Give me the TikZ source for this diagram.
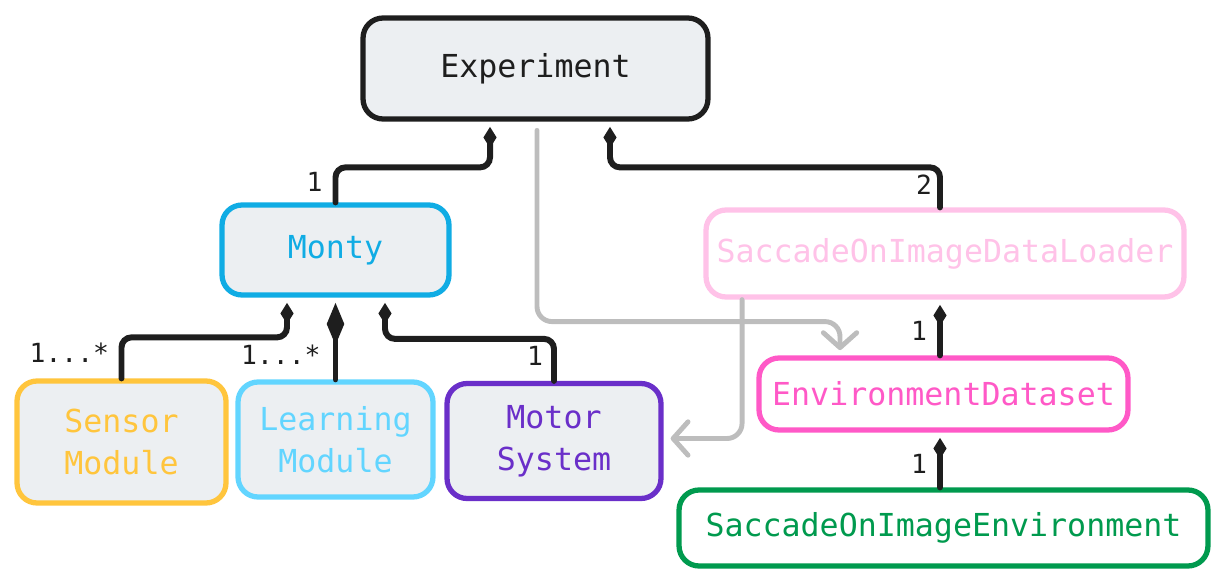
\documentclass[tikz,border=0pt]{standalone}
\usepackage{fontspec}
\setmonofont{DejaVu Sans Mono}
\usepackage{tikz}
\usetikzlibrary{arrows.meta, positioning}
\definecolor{ink}{HTML}{1E1E1E}
\definecolor{boxfill}{HTML}{ECEFF2}
\definecolor{montyblue}{HTML}{10ACE4}
\definecolor{sensoryellow}{HTML}{FFC53D}
\definecolor{learnblue}{HTML}{62D5FF}
\definecolor{motorpurple}{HTML}{6A2FC9}
\definecolor{loaderpink}{HTML}{FFC2E8}
\definecolor{datasetpink}{HTML}{FF59C7}
\definecolor{envgreen}{HTML}{009A4E}
\definecolor{flowgray}{HTML}{BDBDBD}
\tikzstyle{box}=[rectangle, rounded corners=0.4cm, line width=3pt, draw=ink, fill=boxfill, text=ink, font=\ttfamily\fontsize{18}{24}\selectfont, align=center, inner sep=0pt]
\tikzstyle{comp}=[draw=ink, line width=3.4pt, rounded corners=0.2cm, line cap=round, shorten >=3pt, -{Diamond[length=12pt, width=7.5pt]}]
\tikzstyle{bigcomp}=[comp, -{Diamond[length=24pt, width=10pt]}]
\tikzstyle{flow}=[draw=flowgray, line width=2.8pt, rounded corners=0.3cm, line cap=round, -{Straight Barb[length=8.5pt, width=19pt, round]}]
\tikzstyle{mult}=[inner sep=0pt, text=ink, font=\ttfamily\fontsize{15}{15}\selectfont]

\begin{document}
\begin{tikzpicture}[x=0.02cm, y=-0.02cm]
  \useasboundingbox (0,0) rectangle (1224,584);

  \node[box, minimum width=6.9cm, minimum height=2.02cm] (exp) at (535.5,68.5) {Experiment};
  \node[box, draw=montyblue, text=montyblue, minimum width=4.54cm, minimum height=1.8cm] (monty) at (335.5,250) {Monty};
  \node[box, draw=loaderpink, fill=white, text=loaderpink, minimum width=9.56cm, minimum height=1.74cm] (loader) at (945,253.5) {SaccadeOnImageDataLoader};

  \node[box, draw=sensoryellow, text=sensoryellow, minimum width=4.18cm, minimum height=2.44cm] (sensor) at (121.5,442) {Sensor\\Module};
  \node[box, draw=learnblue, text=learnblue, minimum width=3.9cm, minimum height=2.3cm] (learn) at (335.5,439.5) {Learning\\Module};
  \node[box, draw=motorpurple, text=motorpurple, minimum width=4.28cm, minimum height=2.3cm] (motor) at (554,441) {Motor\\System};

  \node[box, draw=datasetpink, fill=white, text=datasetpink, minimum width=7.38cm, minimum height=1.44cm] (envds) at (943.5,394) {EnvironmentDataset};
  \node[box, draw=envgreen, fill=white, text=envgreen, minimum width=10.58cm, minimum height=1.52cm] (senv) at (943.5,528) {SaccadeOnImageEnvironment};

  % composition
  \draw[comp] (monty.north) node[mult, above left=0.16cm and 0.2cm] {1}
    -- ++(0,0.7cm) -| ([xshift=-0.91cm]exp.south);
  \draw[comp] ([xshift=-0.1cm]loader.north) node[mult, above left=0.2cm and 0.1cm] {2}
    -- ++(0,0.8cm) -| ([xshift=1.49cm]exp.south);
  \draw[comp] (sensor.north) node[mult, above left=0.26cm and 0.19cm] {1...*}
    -- ++(0,0.82cm) -| ([xshift=-0.97cm]monty.south);
  \draw[bigcomp] (learn.north) node[mult, above left=0.24cm and 0.24cm] {1...*}
    -- (monty.south);
  \draw[comp] (motor.north) node[mult, above left=0.24cm and 0.16cm] {1}
    -- ++(0,0.84cm) -| ([xshift=0.99cm]monty.south);
  \draw[comp] ([xshift=-0.07cm]envds.north) node[mult, above left=0.24cm and 0.2cm] {1}
    -- ([xshift=-0.1cm]loader.south);
  \draw[comp] ([xshift=-0.07cm]senv.north) node[mult, above left=0.22cm and 0.2cm] {1}
    -- ([xshift=-0.07cm]envds.south);

  % data flow
  \draw[flow, shorten <=5pt, shorten >=3pt] ([xshift=0.03cm]exp.south) -- ++(0,-4cm) -| ([xshift=-2.07cm]envds.north);
  \draw[flow, shorten >=4pt] ([xshift=-4.06cm]loader.south) |- ([yshift=0.05cm]motor.east);
\end{tikzpicture}
\end{document}
